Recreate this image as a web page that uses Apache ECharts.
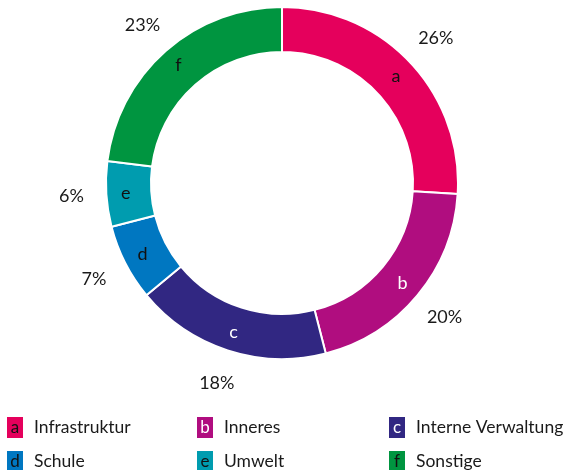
<!DOCTYPE html>
<html>
<head>
<meta charset="utf-8">
<script src="https://cdn.jsdelivr.net/npm/echarts@6/dist/echarts.min.js"></script>
<style>
	html, body { margin: 0; padding: 0; background: #fff; }
	#chart { width: 573px; height: 470px; }
</style>
</head>
<body>
<div id="chart"></div>
<script>
	// Daten
	var categories = ['Infrastruktur', 'Inneres', 'Interne Verwaltung', 'Schule', 'Umwelt', 'Sonstige'];
	var letters = ['a', 'b', 'c', 'd', 'e', 'f'];
	var values = [26, 20, 18, 7, 6, 23];

	var colors = ['#e5005c', '#b00d7f', '#312782', '#0077c1', '#009caf', '#009540'];
	var letterColors = ['#111', '#fff', '#fff', '#111', '#111', '#111'];
	var font = 'Lato, "Open Sans", sans-serif';

	// rich styles für die Legenden-Kästchen
	var rich = { t: { fontSize: 17.5, color: '#1a1a1a', fontFamily: font, padding: [0, 0, 0, 11] } };
	colors.forEach(function (c, i) {
		rich['b' + i] = {
			backgroundColor: c, color: letterColors[i], width: 16, height: 21,
			lineHeight: 21, align: 'center', fontSize: 17, fontFamily: font
		};
	});

	function legendFmt(name) {
		var i = categories.indexOf(name);
		return '{b' + i + '|' + letters[i] + '}{t|' + name + '}';
	}

	// jede Legende einzeln platzieren (3 Spalten x 2 Zeilen)
	var colLeft = [2, 192, 384];
	var rowTop = [417, 451];
	var legends = categories.map(function (name, i) {
		return {
			left: colLeft[i % 3], top: rowTop[Math.floor(i / 3)], padding: 0,
			itemWidth: 0, itemHeight: 0, itemGap: 0, icon: 'none',
			data: [name], formatter: legendFmt,
			textStyle: { rich: rich }, selectedMode: false
		};
	});

	var ringData = categories.map(function (name, i) {
		return {
			name: name, value: values[i],
			itemStyle: { color: colors[i] },
			label: { color: letterColors[i] }
		};
	});
	var pctData = categories.map(function (name, i) {
		return { name: name, value: values[i] };
	});

	var chart = echarts.init(document.getElementById('chart'));
	chart.setOption({
		animation: false,
		legend: legends,
		series: [{
			type: 'pie',
			center: [282, 183],
			radius: [131, 176],
			startAngle: 90,
			clockwise: true,
			silent: true,
			itemStyle: { borderColor: '#fff', borderWidth: 2 },
			label: {
				position: 'inside', fontSize: 18, fontFamily: font,
				formatter: function (p) { return letters[p.dataIndex]; }
			},
			labelLine: { show: false },
			data: ringData
		}, {
			// Prozentangaben außen
			type: 'pie',
			center: [282, 183],
			radius: [200, 216],
			startAngle: 90,
			silent: true,
			itemStyle: { color: 'rgba(0,0,0,0)' },
			label: {
				position: 'inside', fontSize: 18, fontFamily: font, color: '#1a1a1a',
				formatter: '{c}%'
			},
			labelLine: { show: false },
			data: pctData
		}]
	});
</script>
</body>
</html>
